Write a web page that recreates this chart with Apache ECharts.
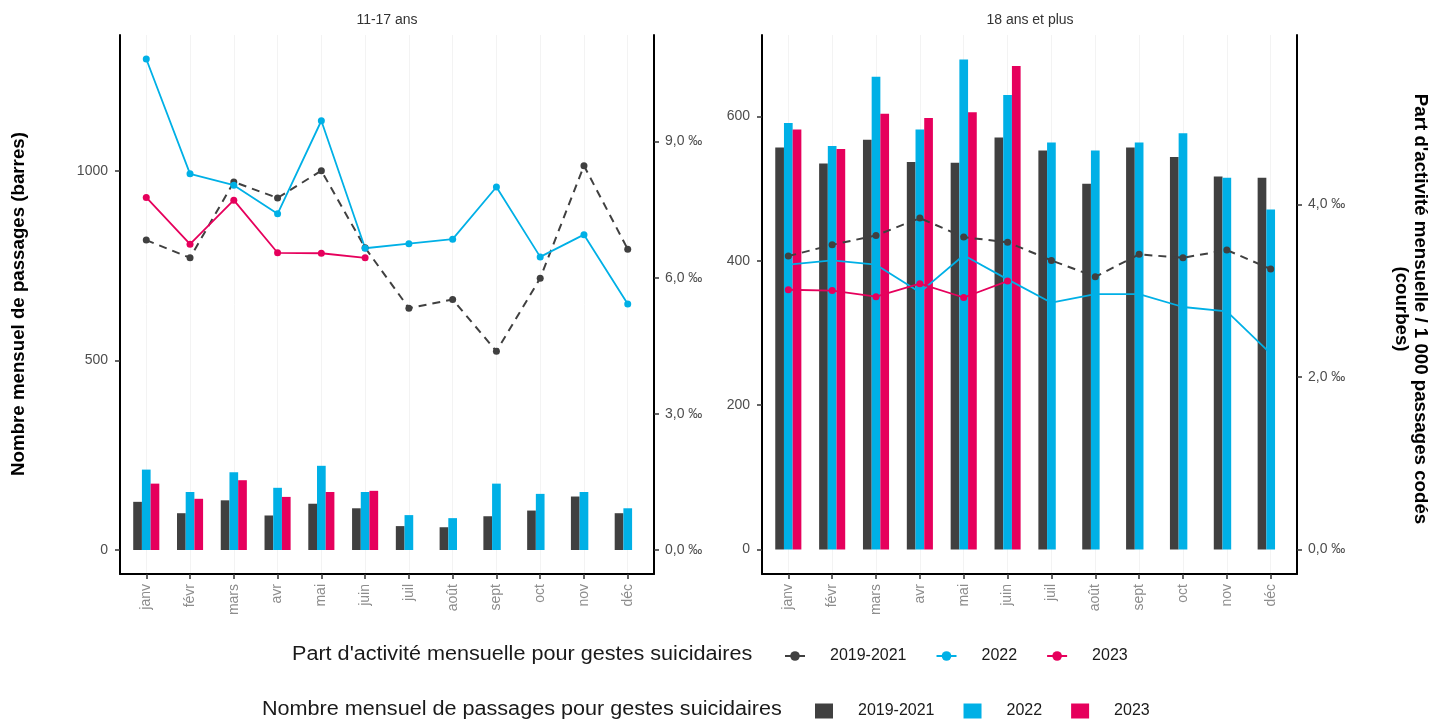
<!DOCTYPE html>
<html>
<head>
<meta charset="utf-8">
<script src="https://cdn.jsdelivr.net/npm/echarts@6/dist/echarts.min.js"></script>
<style>
html, body { margin: 0; padding: 0; background: #fff; }
#main { width: 1447px; height: 719px; }
</style>
</head>
<body>
<div id="main"></div>
<script>
var mois = ['janv', 'févr', 'mars', 'avr', 'mai', 'juin', 'juil', 'août', 'sept', 'oct', 'nov', 'déc'];
var annees = ['2019-2021', '2022', '2023'];

// 11-17 ans : nombre mensuel de passages (barres)
var nb_11_17_1921 = [127, 97, 131, 91, 122, 110, 63, 60, 89, 104, 141, 97];
var nb_11_17_2022 = [212, 153, 205, 164, 222, 153, 92, 84, 175, 148, 153, 110];
var nb_11_17_2023 = [175, 135, 184, 140, 153, 156];
// 11-17 ans : part d'activité pour 1 000 passages (courbes)
var part_11_17_1921 = [6.83, 6.44, 8.11, 7.76, 8.36, 6.66, 5.33, 5.52, 4.38, 5.99, 8.47, 6.63];
var part_11_17_2022 = [10.82, 8.29, 8.04, 7.41, 9.46, 6.65, 6.75, 6.85, 8.00, 6.46, 6.95, 5.42];
var part_11_17_2023 = [7.77, 6.74, 7.71, 6.55, 6.54, 6.44];

// 18 ans et plus
var nb_18p_1921 = [557, 535, 568, 537, 536, 571, 553, 507, 557, 544, 517, 515];
var nb_18p_2022 = [591, 559, 655, 582, 679, 630, 564, 553, 564, 577, 515, 471];
var nb_18p_2023 = [582, 555, 604, 598, 606, 670];
var part_18p_1921 = [3.40, 3.53, 3.64, 3.84, 3.62, 3.56, 3.35, 3.16, 3.42, 3.38, 3.47, 3.25];
var part_18p_2022 = [3.30, 3.35, 3.30, 2.98, 3.41, 3.13, 2.86, 2.96, 2.96, 2.81, 2.76, 2.27];
var part_18p_2023 = [3.01, 3.00, 2.93, 3.08, 2.92, 3.11];

// ticks
var ticksBarres_11_17 = [0, 500, 1000];
var ticksPart_11_17 = [0, 3, 6, 9];
var ticksBarres_18p = [0, 200, 400, 600];
var ticksPart_18p = [0, 2, 4];

var couleurs = ['#404040', '#00b0e6', '#e6005c'];
var police = "'Liberation Sans', Arial, sans-serif";

var myChart = echarts.init(document.getElementById('main'));

var positionsMois = mois.map(function (m, i) { return i; });

function pts(arr) {
    return arr.map(function (v, i) { return [i, v]; });
}

function formatPart(v) {
    return v.toFixed(1).replace('.', ',') + ' \u2030';
}

function formatNb(v) {
    return String(v); // pas de séparateur de milliers
}

function axeX(idx) {
    return {
        type: 'value', gridIndex: idx, min: -0.6, max: 11.6,
        axisLine: { show: true, onZero: false, lineStyle: { color: '#000', width: 2 } },
        axisTick: { show: true, customValues: positionsMois, length: 5, lineStyle: { color: '#333', width: 1.5 } },
        axisLabel: {
            customValues: positionsMois, rotate: 90, margin: 10, fontSize: 14, color: '#8c8c8c',
            formatter: function (v) { return mois[Math.round(v)]; }
        },
        splitLine: { show: true, lineStyle: { color: '#f3f3f3', width: 1 } }
    };
}

function axeY(idx, pos, min, max, ticks, fmt) {
    return {
        type: 'value', gridIndex: idx, position: pos, min: min, max: max,
        axisLine: { show: true, onZero: false, lineStyle: { color: '#000', width: 2 } },
        axisTick: { show: true, customValues: ticks, length: 5, lineStyle: { color: '#333', width: 1.5 } },
        axisLabel: { customValues: ticks, margin: pos === 'left' ? 12 : 11, fontSize: 14, color: '#4d4d4d', formatter: fmt },
        splitLine: { show: false }
    };
}

function barres(nom, data, xi, yi, coul) {
    return {
        name: nom, type: 'bar', xAxisIndex: xi, yAxisIndex: yi,
        data: pts(data), barWidth: 8.7, barGap: '0%',
        itemStyle: { color: coul }, z: 2
    };
}

function courbe(nom, data, xi, yi, coul, pointille) {
    return {
        name: nom, type: 'line', xAxisIndex: xi, yAxisIndex: yi,
        data: pts(data), symbol: 'circle', symbolSize: 7, showSymbol: true,
        lineStyle: { color: coul, width: pointille ? 2 : 1.8, type: pointille ? [8, 6] : 'solid' },
        itemStyle: { color: coul }, z: 5
    };
}

option = {
    animation: false,
    textStyle: { fontFamily: police },
    grid: [
        { left: 120, top: 35, width: 534, height: 539 },
        { left: 762, top: 35, width: 535, height: 539 }
    ],
    xAxis: [axeX(0), axeX(1)],
    yAxis: [
        axeY(0, 'left', -63.3, 1358, ticksBarres_11_17, formatNb),
        axeY(0, 'right', -0.529, 11.35, ticksPart_11_17, formatPart),
        axeY(1, 'left', -34, 713, ticksBarres_18p, formatNb),
        axeY(1, 'right', -0.284, 5.962, ticksPart_18p, formatPart)
    ],
    legend: [{
        data: ['L' + annees[0], 'L' + annees[1], 'L' + annees[2]],
        left: 784, top: 648, padding: 0, itemWidth: 20, itemHeight: 12, itemGap: 29,
        formatter: function (n) { return n.slice(1); },
        lineStyle: { type: 'solid', width: 2 },
        textStyle: { fontSize: 16, color: '#1a1a1a', padding: [0, 0, 0, 20] }
    }, {
        data: annees,
        icon: 'rect',
        left: 815, top: 703, padding: 0, itemWidth: 18, itemHeight: 15, itemGap: 29,
        textStyle: { fontSize: 16, color: '#1a1a1a', padding: [0, 0, 0, 20] }
    }],
    graphic: [
        { type: 'text', x: 387, y: 20, style: { text: '11-17 ans', fontSize: 14, fontFamily: police, fill: '#333', align: 'center', verticalAlign: 'middle' } },
        { type: 'text', x: 1030, y: 20, style: { text: '18 ans et plus', fontSize: 14, fontFamily: police, fill: '#333', align: 'center', verticalAlign: 'middle' } },
        { type: 'text', x: 19, y: 304, rotation: Math.PI / 2, style: { text: 'Nombre mensuel de passages (barres)', fontSize: 18.7, fontWeight: 'bold', fontFamily: police, fill: '#000', align: 'center', verticalAlign: 'middle' } },
        { type: 'text', x: 1411, y: 309, rotation: -Math.PI / 2, style: { text: "Part d'activité mensuelle / 1 000 passages codés\n(courbes)", fontSize: 18.7, lineHeight: 19, fontWeight: 'bold', fontFamily: police, fill: '#000', align: 'center', verticalAlign: 'middle' } },
        { type: 'text', x: 292, y: 654, scaleX: 1.08, style: { text: "Part d'activité mensuelle pour gestes suicidaires", fontSize: 20, fontFamily: police, fill: '#1a1a1a', align: 'left', verticalAlign: 'middle' } },
        { type: 'text', x: 262, y: 709, scaleX: 1.08, style: { text: 'Nombre mensuel de passages pour gestes suicidaires', fontSize: 20, fontFamily: police, fill: '#1a1a1a', align: 'left', verticalAlign: 'middle' } }
    ],
    series: [
        barres(annees[0], nb_11_17_1921, 0, 0, couleurs[0]),
        barres(annees[1], nb_11_17_2022, 0, 0, couleurs[1]),
        barres(annees[2], nb_11_17_2023, 0, 0, couleurs[2]),
        courbe('L' + annees[0], part_11_17_1921, 0, 1, couleurs[0], true),
        courbe('L' + annees[1], part_11_17_2022, 0, 1, couleurs[1], false),
        courbe('L' + annees[2], part_11_17_2023, 0, 1, couleurs[2], false),
        barres(annees[0], nb_18p_1921, 1, 2, couleurs[0]),
        barres(annees[1], nb_18p_2022, 1, 2, couleurs[1]),
        barres(annees[2], nb_18p_2023, 1, 2, couleurs[2]),
        courbe('L' + annees[0], part_18p_1921, 1, 3, couleurs[0], true),
        courbe('L' + annees[1], part_18p_2022, 1, 3, couleurs[1], false),
        courbe('L' + annees[2], part_18p_2023, 1, 3, couleurs[2], false)
    ]
};

myChart.setOption(option);
</script>
</body>
</html>
